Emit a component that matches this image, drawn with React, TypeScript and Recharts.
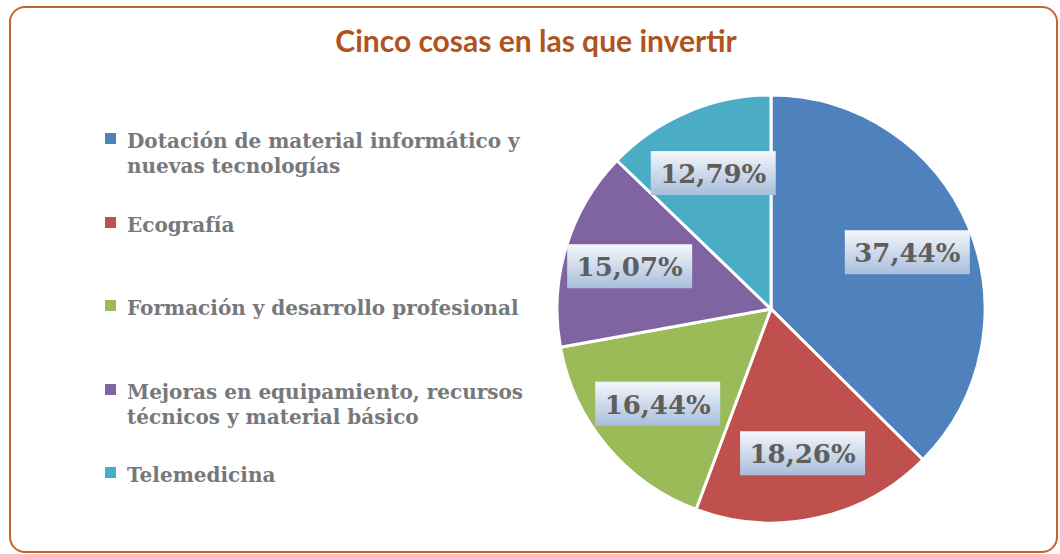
import React from 'react';
import { PieChart, Pie, Cell, Legend } from 'recharts';

// Values
const title = 'Cinco cosas en las que invertir';
const categories = [
  'Dotación de material informático y nuevas tecnologías',
  'Ecografía',
  'Formación y desarrollo profesional',
  'Mejoras en equipamiento, recursos técnicos y material básico',
  'Telemedicina',
];
const shares = [37.44, 18.26, 16.44, 15.07, 12.79];
const sliceColors = ['#4f81bd', '#c0504d', '#9bbb59', '#8064a2', '#4bacc6'];

const data = categories.map((name, i) => ({ name, value: shares[i], fill: sliceColors[i] }));

const RADIAN = Math.PI / 180;
const SERIF = '"DejaVu Serif", Cambria, serif';

const formatShare = (v: number) => v.toFixed(2).replace('.', ',') + '%';

// Data label: a white-to-blue gradient box with the share in it
function ShareLabel(props: any) {
  const { cx, cy, midAngle, outerRadius, value, index } = props;
  const r = outerRadius * 0.69;
  const x = cx + r * Math.cos(-midAngle * RADIAN);
  const y = cy + r * Math.sin(-midAngle * RADIAN);
  const w = 125;
  const h = 44;
  const id = `label-fill-${index}`;
  return (
    <g>
      <defs>
        <linearGradient id={id} x1="0" y1="0" x2="0" y2="1">
          <stop offset="0%" stopColor="#f5f7fb" />
          <stop offset="100%" stopColor="#a8bedb" />
        </linearGradient>
      </defs>
      <rect x={x - w / 2} y={y - h / 2} width={w} height={h} fill={`url(#${id})`} />
      <text
        x={x}
        y={y + 1}
        textAnchor="middle"
        dominantBaseline="central"
        fill="#5e5e5e"
        fontFamily={SERIF}
        fontWeight="bold"
        fontSize={26}
      >
        {formatShare(value)}
      </text>
    </g>
  );
}

function LegendList({ payload }: any) {
  const items = payload || [];
  return (
    <div style={{ position: 'relative', width: 0, height: 0 }}>
      {items.map((entry: any, i: number) => (
        <div
          key={i}
          style={{ position: 'absolute', left: 0, top: i * 83.5, display: 'flex', alignItems: 'flex-start' }}
        >
          <span
            style={{
              width: 11,
              height: 11,
              marginTop: 4,
              marginRight: 11,
              flex: 'none',
              background: entry.color || sliceColors[i],
            }}
          />
          <span
            style={{
              width: 410,
              fontFamily: SERIF,
              fontWeight: 'bold',
              fontSize: 20,
              lineHeight: '25px',
              color: '#77787b',
            }}
          >
            {entry.value}
          </span>
        </div>
      ))}
    </div>
  );
}

export default function App() {
  return (
    <div style={{ position: 'absolute', left: 0, top: 0, width: 1060, height: 554, background: '#fff' }}>
      <div
        style={{
          position: 'absolute',
          left: 9,
          top: 6,
          width: 1049,
          height: 547,
          boxSizing: 'border-box',
          border: '2px solid #c0652d',
          borderRadius: 16,
        }}
      />
      <div
        style={{
          position: 'absolute',
          left: 0,
          top: 22,
          width: 1072,
          textAlign: 'center',
          fontFamily: 'Lato, "Open Sans", sans-serif',
          fontWeight: 'bold',
          fontSize: 30,
          lineHeight: '36px',
          color: '#b0541f',
        }}
      >
        {title}
      </div>
      <div style={{ position: 'absolute', left: 0, top: 0 }}>
        <PieChart width={1060} height={554} margin={{ top: 0, right: 0, bottom: 0, left: 0 }}>
          <Pie
            data={data}
            dataKey="value"
            nameKey="name"
            cx={771}
            cy={309}
            outerRadius={214}
            startAngle={90}
            endAngle={-270}
            stroke="#ffffff"
            strokeWidth={3}
            labelLine={false}
            label={ShareLabel}
            isAnimationActive={false}
          >
            {data.map((d, i) => (
              <Cell key={d.name} fill={sliceColors[i]} />
            ))}
          </Pie>
          <Legend
            layout="vertical"
            align="left"
            verticalAlign="top"
            content={<LegendList />}
            wrapperStyle={{ position: 'absolute', left: 105, top: 129, width: 0, height: 0, overflow: 'visible' }}
          />
        </PieChart>
      </div>
    </div>
  );
}
